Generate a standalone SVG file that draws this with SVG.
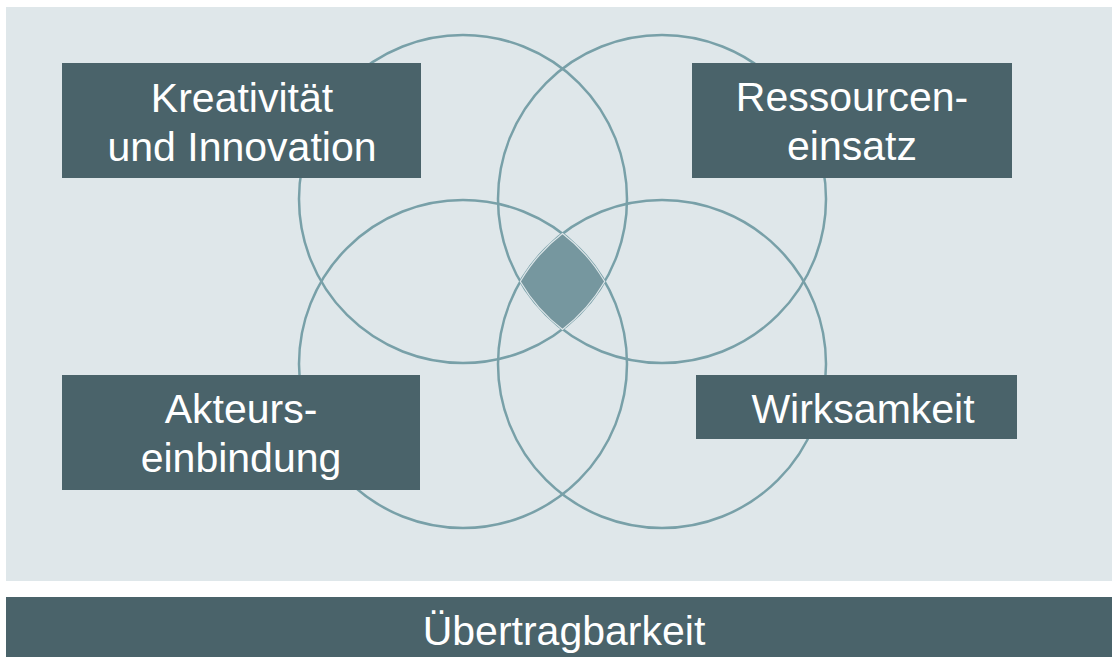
<svg xmlns="http://www.w3.org/2000/svg" width="1112" height="657" viewBox="0 0 1112 657">
  <style>
    .box { fill: #4a636a; }
    .lbl { fill: #ffffff; font-family: "Liberation Sans", Arial, sans-serif; font-size: 41px; text-anchor: middle; }
    .ring { fill: none; stroke: #78a0a8; stroke-width: 2.5; }
  </style>
  <rect x="0" y="0" width="1112" height="657" fill="#ffffff"/>
  <rect id="panel" x="6" y="7" width="1106" height="574" fill="#dfe7ea"/>
  <g id="connectors">
    <circle class="ring" cx="463" cy="199" r="164"/>
    <circle class="ring" cx="662" cy="199" r="164"/>
    <circle class="ring" cx="463" cy="364" r="164"/>
    <circle class="ring" cx="662" cy="364" r="164"/>
    <path id="core" d="M562.5,233.6 A164,164 0 0 1 604.7,281.5 A164,164 0 0 1 562.5,329.4 A164,164 0 0 1 520.3,281.5 A164,164 0 0 1 562.5,233.6 Z" fill="#76979f" stroke="#dfe7ea" stroke-width="1.2"/>
  </g>
  <g id="kreativitaet">
    <rect class="box" x="62" y="63" width="359" height="115"/>
    <text class="lbl" x="242" y="111.5">Kreativität</text>
    <text class="lbl" x="242" y="160.5">und Innovation</text>
  </g>
  <g id="ressourceneinsatz">
    <rect class="box" x="692" y="63" width="320" height="115"/>
    <text class="lbl" x="852" y="111">Ressourcen-</text>
    <text class="lbl" x="852" y="160">einsatz</text>
  </g>
  <g id="akteurseinbindung">
    <rect class="box" x="62" y="375" width="358" height="115"/>
    <text class="lbl" x="241" y="423">Akteurs-</text>
    <text class="lbl" x="241" y="472">einbindung</text>
  </g>
  <g id="wirksamkeit">
    <rect class="box" x="696" y="375" width="321" height="64"/>
    <text class="lbl" x="863" y="422.5">Wirksamkeit</text>
  </g>
  <g id="uebertragbarkeit">
    <rect class="box" x="6" y="597" width="1106" height="60"/>
    <text class="lbl" x="564" y="645">Übertragbarkeit</text>
  </g>
</svg>
